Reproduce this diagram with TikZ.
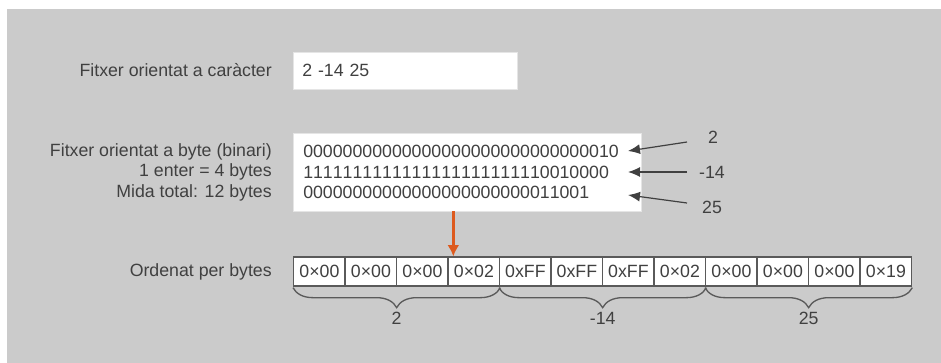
\documentclass[tikz,border=0pt]{standalone}
\usepackage{fontspec}
\setmainfont{Liberation Sans}
\usetikzlibrary{arrows.meta,calc,decorations.pathreplacing}
\definecolor{txtgray}{HTML}{404040}
\definecolor{bggray}{HTML}{CBCBCB}
\definecolor{edgegray}{HTML}{5A5A5A}
\definecolor{selorange}{HTML}{DD5A1E}
\tikzset{
  lbl/.style={inner sep=0pt, text=txtgray, font=\fontsize{13.3}{15.4}\selectfont},
  filebox/.style={draw=white!90!black, fill=white, inner ysep=0pt, align=left,
    text=txtgray, font=\fontsize{13.3}{15.4}\selectfont\addfontfeatures{Kerning=Off}},
  bytecell/.style={draw=edgegray, fill=white, line width=1pt, inner sep=0pt,
    minimum width=38.6pt, minimum height=21.75pt, text=txtgray,
    font=\fontsize{13.3}{15.4}\selectfont},
  ptr/.style={-{Latex[length=9pt, width=7.5pt]}, draw=txtgray, line width=0.9pt},
  sel/.style={-{Latex[length=8.5pt, width=9pt]}, draw=selorange, line width=2pt},
  grp/.style={draw=edgegray, line width=1pt,
    decorate, decoration={brace, mirror, amplitude=15pt, raise=0.75pt}},
}

\begin{document}
\begin{tikzpicture}[x=0.75pt, y=-0.75pt]
  \useasboundingbox (0,0) rectangle (941,363);
  \fill[bggray] (7,9) rectangle (941,363);

  % character file
  \node[lbl, anchor=east] (chrlbl) at (272,70.5) {Fitxer orientat a caràcter};
  \node[filebox, anchor=west, text width=154.5pt, inner xsep=6.75pt,
    minimum height=27.75pt] (chr) at (293,70.5) {2 -14 25};

  % binary file
  \node[lbl, anchor=east, align=right] (binlbl) at (272,172)
    {Fitxer orientat a byte (binari)\\1 enter = 4 bytes\\Mida total: 12 bytes};
  \node[filebox, anchor=west, text width=246pt, inner xsep=7.5pt,
    minimum height=58.5pt] (bin) at (293,172)
    {00000000%
     00000000%
     00000000%
     00000010\\
     11111111%
     11111111%
     11111111%
     0010000\\
     00000000%
     00000000%
     00000000%
     11001};

  \node[lbl] (v1) at (713,137) {2};
  \node[lbl] (v2) at (712,172) {-14};
  \node[lbl] (v3) at (712,207) {25};
  \coordinate (s1) at (687,142);
  \coordinate (s2) at (687,172);
  \coordinate (s3) at (687,203);
  \coordinate (t1) at (628,151);
  \coordinate (t2) at (628,172);
  \coordinate (t3) at (628,195);
  \draw[ptr] (s1) -- (t1);
  \draw[ptr] (s2) -- (t2);
  \draw[ptr] (s3) -- (t3);

  % byte sequence
  \node[lbl, anchor=east] (seqlbl) at (272,271.5) {Ordenat per bytes};
  \foreach \v [count=\i] in {0×00,0×00,0×00,0×02,0xFF,0xFF,0xFF,0×02,0×00,0×00,0×00,0×19}
    \node[bytecell, anchor=west] (b\i) at ({293+51.5*(\i-1)},271.5) {\v};

  \coordinate (cut) at ($(bin.south west)!0.46!(bin.south east)$);
  \draw[sel] (cut) -- (cut |- b1.north);

  \draw[grp] (b1.south west) -- node[lbl, yshift=-24pt] (g1) {2} (b4.south east);
  \draw[grp] (b5.south west) -- node[lbl, yshift=-24pt] (g2) {-14} (b8.south east);
  \draw[grp] (b9.south west) -- node[lbl, yshift=-24pt] (g3) {25} (b12.south east);
\end{tikzpicture}
\end{document}
